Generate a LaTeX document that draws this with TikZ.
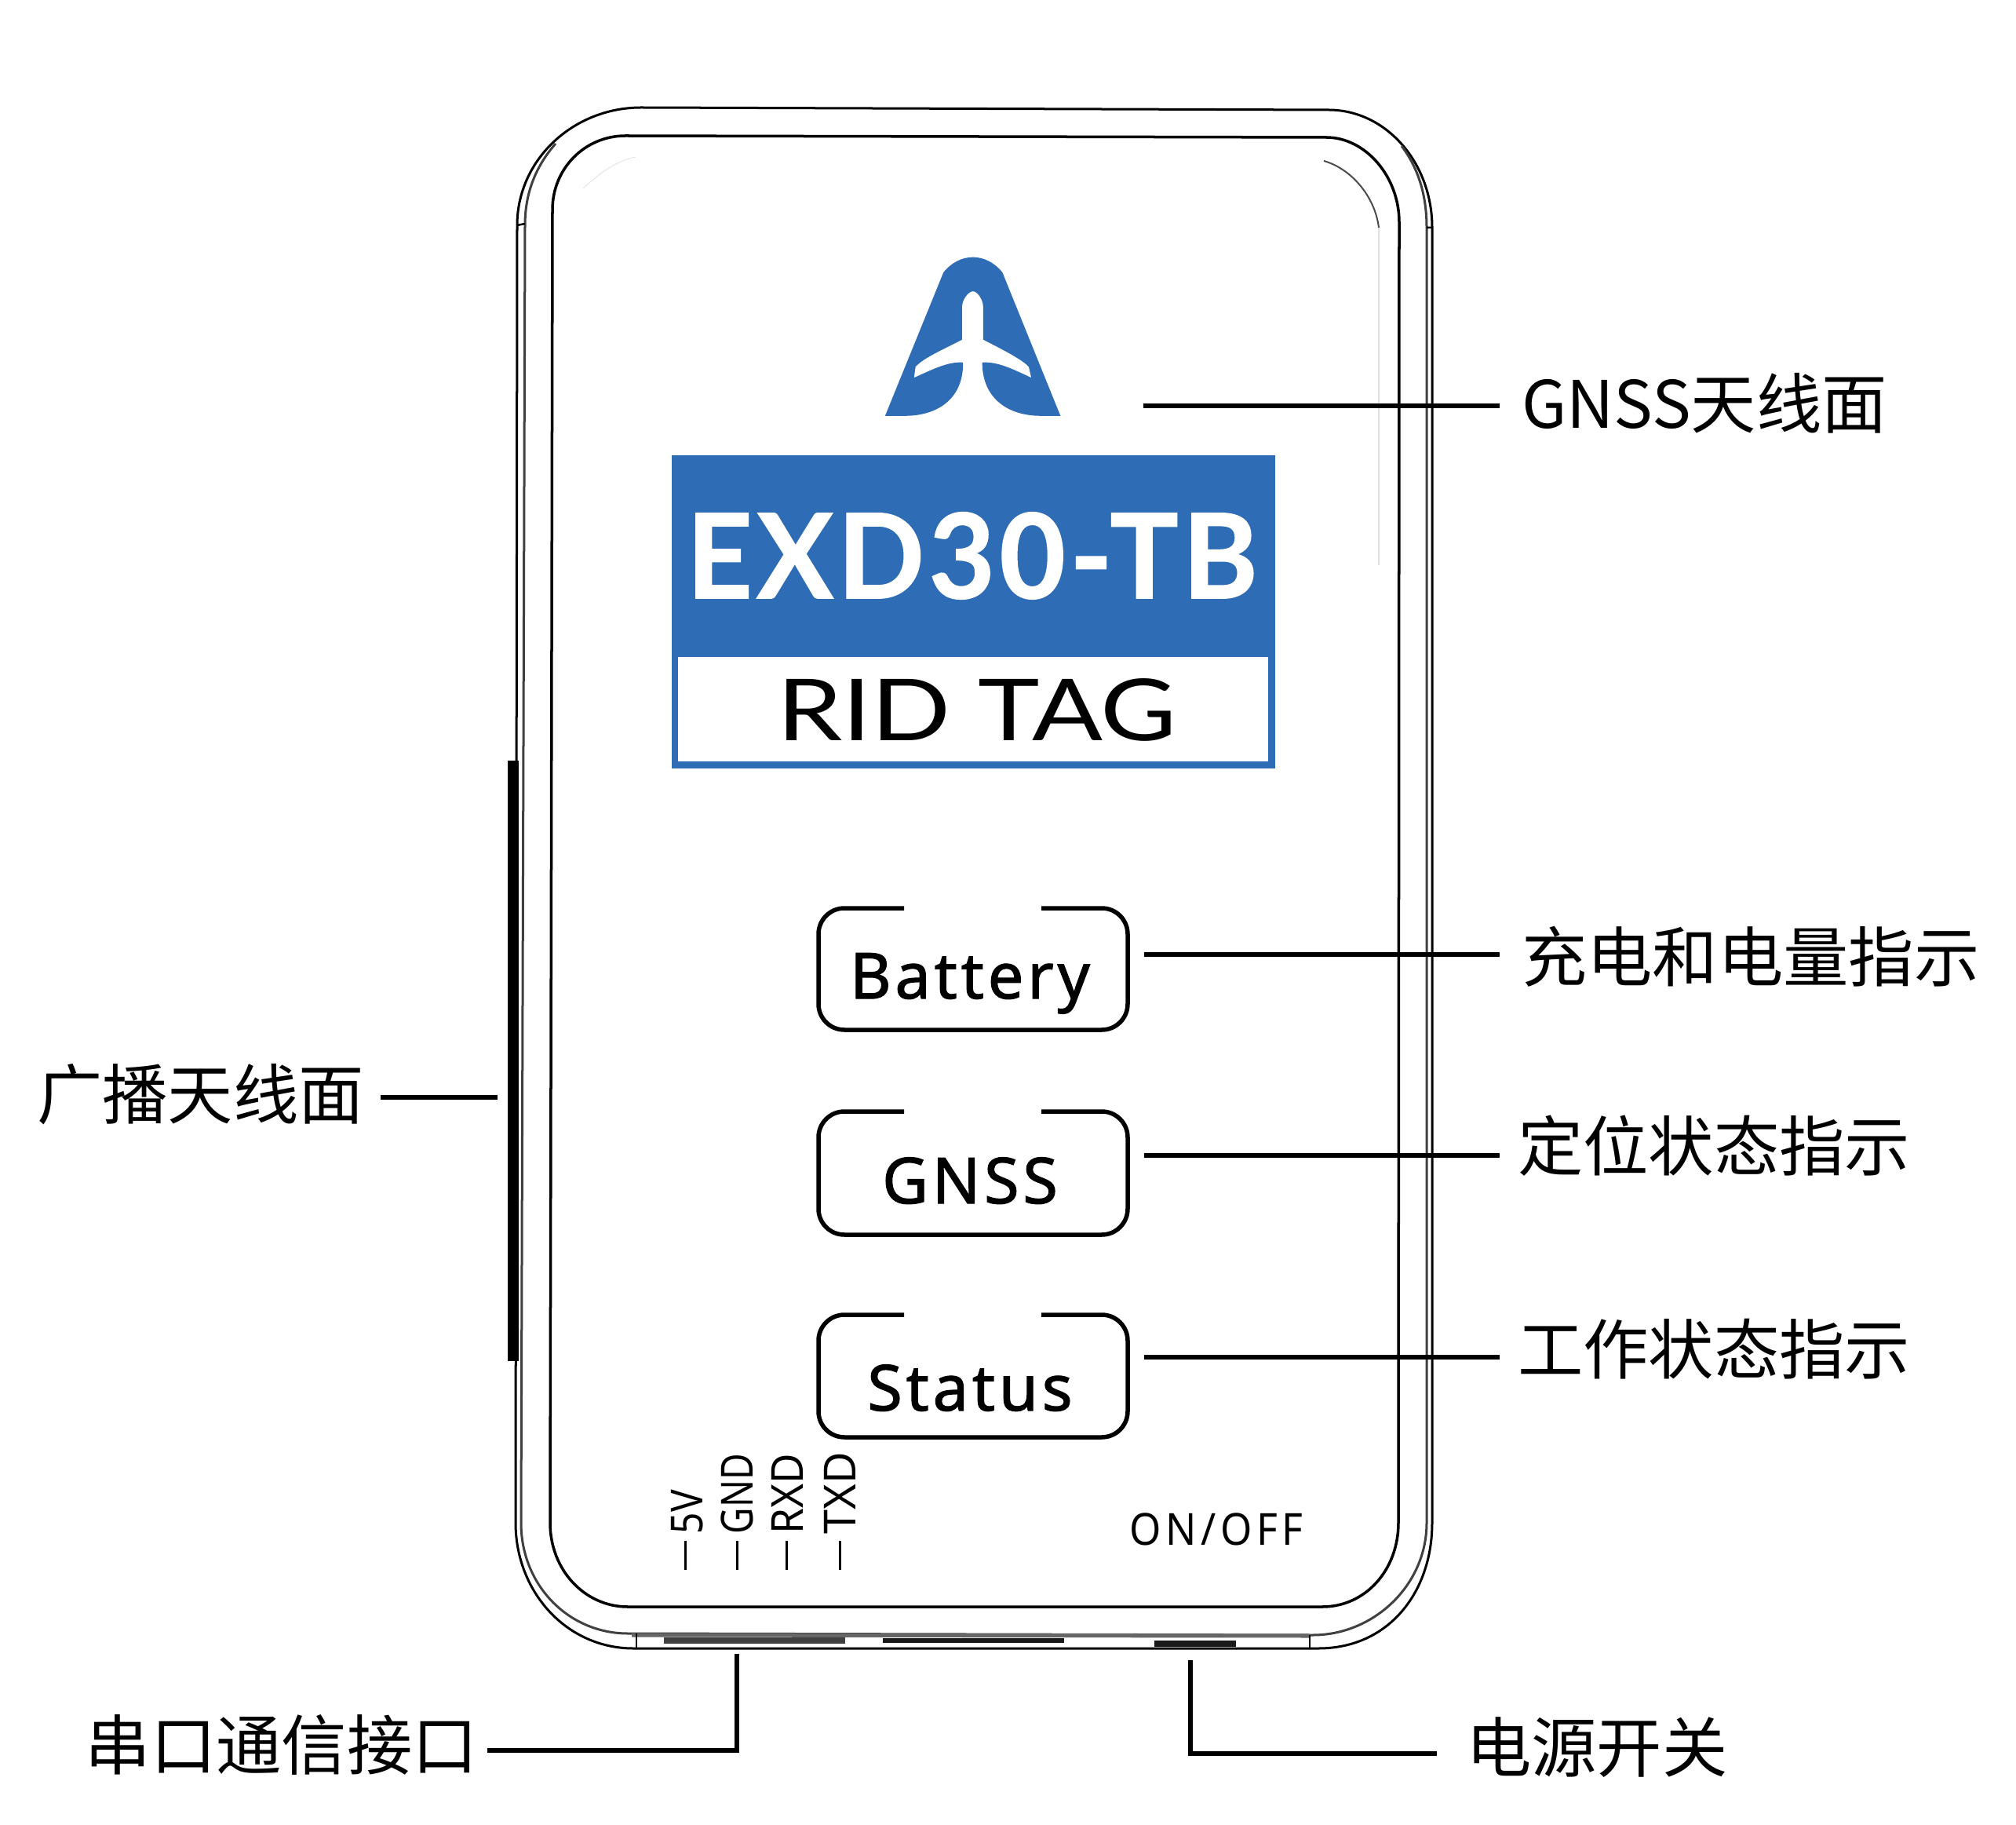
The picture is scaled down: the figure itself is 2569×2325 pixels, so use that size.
\documentclass[tikz,border=0pt]{standalone}
\usepackage{fontspec}
\usepackage{graphicx}
\setmainfont{Noto Sans}
\newfontfamily\cjk{Noto Sans CJK SC}
\newfontfamily\lato{Lato}
\newfontfamily\latob{Lato Bold}[FakeBold=1.2,LetterSpace=4]
\newfontfamily\btnfont{Noto Sans}[LetterSpace=6,FakeBold=1.5]
\newfontfamily\smallfont{Noto Sans}
\newfontfamily\spacedfont{Noto Sans}[LetterSpace=11]
\definecolor{brand}{HTML}{2E6CB5}
\tikzset{
  px/.style={line width=#1*0.2845pt},
  lead/.style={line width=5.5*0.2845pt,black},
  callout/.style={inner ysep=0pt,outer sep=0pt,font=\cjk\fontsize{23.7}{28}\selectfont},
  btnline/.style={line width=5.5*0.2845pt,black,rounded corners=0.33cm},
  btntext/.style={inner sep=0pt,font=\btnfont\fontsize{23}{28}\selectfont},
  pintext/.style={inner sep=0pt,rotate=90,anchor=base west,font=\smallfont\fontsize{16}{20}\selectfont},
  pintick/.style={line width=3*0.2845pt,black},
}
\begin{document}
\begin{tikzpicture}[x=0.01cm,y=-0.01cm]
\useasboundingbox[fill=white] (0,0) rectangle (2569,2325);
% housing outer
\draw[px=3] (659,287) .. controls (659,204) and (730,137) .. (817,137) -- (1693,140)
  .. controls (1766,140) and (1825,207) .. (1825,290) -- (1825,1940)
  .. controls (1825,2028) and (1770,2100) .. (1680,2100) -- (807,2100)
  .. controls (722,2100) and (657,2028) .. (657,1940) -- cycle;
% second edge
\draw[px=3,black!75] (708,183) .. controls (680,215) and (669,250) .. (669,287) -- (664,1940)
  .. controls (664,2020) and (725,2081) .. (800,2081) -- (1673,2083)
  .. controls (1750,2083) and (1818,2020) .. (1818,1940) -- (1818,290)
  .. controls (1818,250) and (1808,215) .. (1786,186);
\draw[px=2.5] (659,287) -- (669,285) (1818,290) -- (1825,290);
\draw[px=5,black!60] (805,2083) -- (1670,2084);
\draw[px=2.5] (811,2081) -- (811,2100) (1669,2083) -- (1669,2100);
% inner face
\draw[px=3.5] (704,267) .. controls (704,215) and (745,173) .. (797,173) -- (1690,175)
  .. controls (1740,175) and (1783,225) .. (1783,283) -- (1782,1940)
  .. controls (1782,2000) and (1740,2047) .. (1685,2047) -- (800,2047)
  .. controls (745,2047) and (701,2000) .. (701,1940) -- cycle;
% faint highlights
\draw[px=1,black!10] (743,240) .. controls (765,220) and (785,205) .. (810,200);
\draw[px=2,black!70] (1687,205) .. controls (1722,215) and (1752,250) .. (1757,290);
\draw[px=1.5,black!12] (1757,290) -- (1757,720);
% side antenna bar
\fill[black] (647,969) rectangle (661,1734);
% bottom slots
\fill[black!75] (846,2086) rectangle (1077,2094);
\fill[black!90] (1125,2087) rectangle (1356,2093);
\fill[black!90] (1471,2090) rectangle (1575,2098);
% logo
\begin{scope}[shift={(1050,280)},x=0.003954cm,y=-0.00462cm]
\fill[brand] (197,540) -- (385,145) .. controls (410,118) and (445,103) .. (480,103)
  .. controls (515,103) and (550,118) .. (575,145) -- (762,540) -- (700,540)
  .. controls (590,540) and (510,490) .. (510,393)
  .. controls (560,390) and (610,412) .. (668,435) -- (660,405)
  .. controls (640,385) and (570,355) .. (513,330) -- (513,240)
  .. controls (513,220) and (495,197) .. (480,197)
  .. controls (465,197) and (445,220) .. (445,240) -- (445,330)
  .. controls (390,355) and (320,380) .. (295,405) -- (290,435)
  .. controls (350,412) and (400,390) .. (448,393)
  .. controls (450,490) and (370,540) .. (260,540) -- cycle;
\end{scope}
% label
\fill[brand] (856,580) rectangle (1625,979);
\fill[white] (864,837) rectangle (1616,970);
\node[inner sep=0pt,anchor=base,text=white] (model) at (1239,762)
  {\scalebox{0.97}[1]{\latob\fontsize{42.5}{50}\selectfont EXD30-TB}};
\node[inner sep=0pt,anchor=base] (tag) at (1245,944)
  {\scalebox{1.22}[1]{\lato\fontsize{31}{36}\selectfont RID TAG}};
% buttons
\draw[btnline] (1152,1157) -- (1043,1157) -- (1043,1312) -- (1437,1312) -- (1437,1157) -- (1327,1157);
\node[btntext,anchor=base] (battery) at (1236,1272) {Battery};
\draw[btnline] (1152,1416) -- (1043,1416) -- (1043,1573) -- (1437,1573) -- (1437,1416) -- (1327,1416);
\node[btntext,anchor=base] (gnss) at (1236,1533) {GNSS};
\draw[btnline] (1152,1675) -- (1043,1675) -- (1043,1831) -- (1437,1831) -- (1437,1675) -- (1327,1675);
\node[btntext,anchor=base] (status) at (1236,1797) {Status};
% pins
\node[pintext] (p5v) at (895,1955) {\scalebox{0.85}[1]{5V}};
\node[pintext] (pgnd) at (959,1955) {\scalebox{0.82}[1]{GND}};
\node[pintext] (prxd) at (1023,1955) {\scalebox{0.94}[1]{RXD}};
\node[pintext] (ptxd) at (1090,1955) {\scalebox{0.99}[1]{TXD}};
\coordinate (t1) at (873,1963); \coordinate (t2) at (939,1963);
\coordinate (t3) at (1002,1963); \coordinate (t4) at (1070,1963);
\draw[pintick] (t1) -- ++(0,37);
\draw[pintick] (t2) -- ++(0,37);
\draw[pintick] (t3) -- ++(0,37);
\draw[pintick] (t4) -- ++(0,37);
\node[inner sep=0pt,anchor=base] (onoff) at (1550,1968)
  {\scalebox{0.92}[1]{\spacedfont\fontsize{16}{20}\selectfont ON/OFF}};
% callouts
\node[callout,inner xsep=0.28cm,anchor=west] (lGnss) at (1911,514) {GNSS天线面};
\node[callout,inner xsep=0.28cm,anchor=west] (lBatt) at (1911,1219) {充电和电量指示};
\node[callout,inner xsep=0.23cm,anchor=west] (lPos) at (1911,1460) {定位状态指示};
\node[callout,inner xsep=0.23cm,anchor=west] (lWork) at (1911,1719) {工作状态指示};
\node[callout,inner xsep=0.21cm,anchor=east] (lAir) at (485,1394) {广播天线面};
\node[callout,inner xsep=0.12cm,anchor=east] (lSer) at (621,2223) {串口通信接口};
\node[callout,inner xsep=0.37cm,anchor=west] (lPwr) at (1831,2226) {电源开关};
\coordinate (aGnss) at (1457,517);
\coordinate (aBatt) at (1458,1216);
\coordinate (aPos) at (1458,1472);
\coordinate (aWork) at (1458,1729);
\coordinate (aAir) at (634,1398);
\coordinate (aSer) at (939,2107);
\coordinate (cSer) at (939,2230);
\coordinate (aPwr) at (1517,2115);
\coordinate (cPwr) at (1517,2234);
\draw[lead] (aGnss) -- (aGnss -| lGnss.west);
\draw[lead] (aBatt) -- (aBatt -| lBatt.west);
\draw[lead] (aPos) -- (aPos -| lPos.west);
\draw[lead] (aWork) -- (aWork -| lWork.west);
\draw[lead] (aAir) -- (aAir -| lAir.east);
\draw[lead] (aSer) -- (cSer) -- (cSer -| lSer.east);
\draw[lead] (aPwr) -- (cPwr) -- (cPwr -| lPwr.west);
\end{tikzpicture}
\end{document}
